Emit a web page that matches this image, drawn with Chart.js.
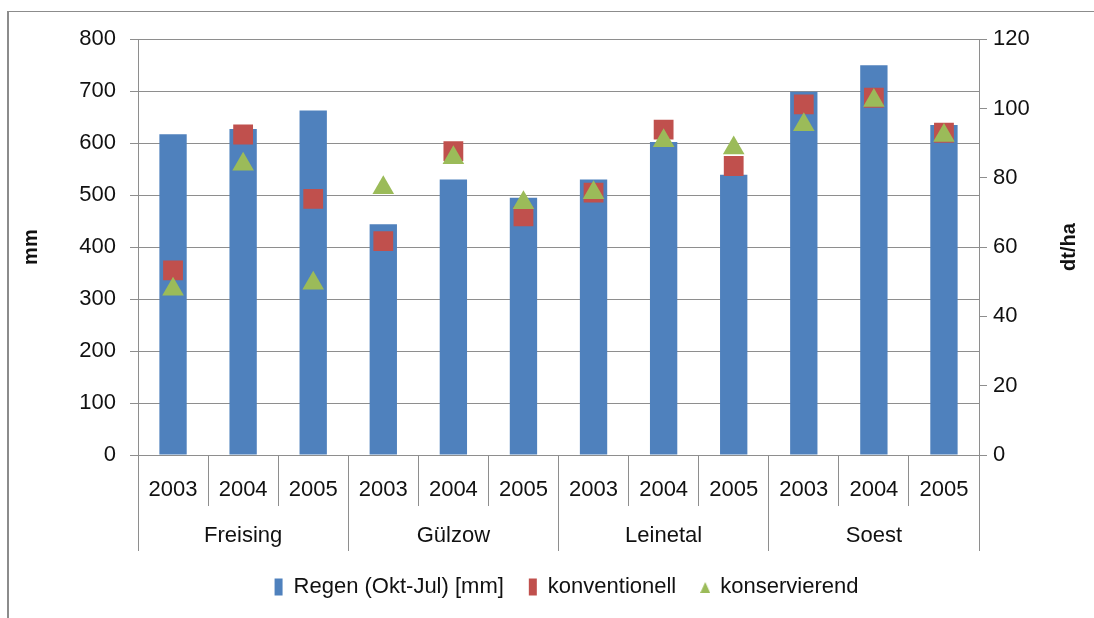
<!DOCTYPE html>
<html>
<head>
<meta charset="utf-8">
<script src="https://cdn.jsdelivr.net/npm/chart.js@4.4.1/dist/chart.umd.min.js"></script>
<style>
  body { margin: 0; background: #fff; }
  #frame { position: absolute; left: 7px; top: 11px; width: 1087px; height: 607px;
           border-left: 2px solid #8c8c8c; border-top: 1px solid #8c8c8c; }
  #c { display: block; }
</style>
</head>
<body>
<div id="frame"><canvas id="c" width="1087" height="607"></canvas></div>
<script>
var years = ['2003', '2004', '2005', '2003', '2004', '2005', '2003', '2004', '2005', '2003', '2004', '2005'];
var sites = ['Freising', 'Gülzow', 'Leinetal', 'Soest'];
var regen = [617, 627, 663, 444, 530, 495, 530, 602, 539, 699, 750, 635];
var konventionell = [53.3, 92.5, 73.9, 61.7, 87.7, 68.9, 75.7, 93.9, 83.4, 101.2, 103.1, 93.0];
var konservierend = [47.8, 83.9, 49.6, 77.1, 85.8, 72.8, 75.7, 90.7, 88.6, 95.3, 102.3, 92.2];
var mmTicks = [0, 100, 200, 300, 400, 500, 600, 700, 800];
var dtTicks = [0, 20, 40, 60, 80, 100, 120];

var blue = '#4F81BD', red = '#C0504D', green = '#9BBB59';
var gridColor = '#8e8e8e';
var font = { family: '"Liberation Sans", Arial, sans-serif', size: 22 };

// small triangle for the legend entry
var tri = document.createElement('canvas');
tri.width = 10; tri.height = 12;
var tctx = tri.getContext('2d');
tctx.fillStyle = green;
tctx.beginPath(); tctx.moveTo(5, 1); tctx.lineTo(10, 12); tctx.lineTo(0, 12); tctx.closePath(); tctx.fill();

var rightTitle = {
    id: 'rightTitle',
    afterDraw: function(chart) {
        var s = chart.scales.y1, ctx = chart.ctx;
        ctx.save();
        ctx.translate(s.right - 27, (s.top + s.bottom) / 2);
        ctx.rotate(-Math.PI / 2);
        ctx.font = 'bold 20px "Liberation Sans", Arial, sans-serif';
        ctx.fillStyle = '#111';
        ctx.textAlign = 'center';
        ctx.textBaseline = 'middle';
        ctx.fillText('dt/ha', 0, 0);
        ctx.restore();
    }
};

var ctx = document.getElementById('c').getContext('2d');
var chart = new Chart(ctx, {
    type: 'bar',
    data: {
        labels: years,
        datasets: [{
            label: 'Regen (Okt-Jul) [mm]',
            data: regen,
            backgroundColor: blue,
            borderWidth: 0,
            yAxisID: 'y',
            xAxisID: 'x',
            barPercentage: 0.39,
            categoryPercentage: 1,
            pointStyle: 'rect',
            order: 3
        }, {
            type: 'line',
            label: 'konventionell',
            data: konventionell,
            showLine: false,
            pointStyle: 'rect',
            pointRadius: 14,
            pointBackgroundColor: red,
            pointBorderColor: red,
            backgroundColor: red,
            borderColor: red,
            pointBorderWidth: 0,
            yAxisID: 'y1',
            xAxisID: 'x',
            order: 2
        }, {
            type: 'line',
            label: 'konservierend',
            data: konservierend,
            showLine: false,
            pointStyle: 'triangle',
            pointRadius: 12.5,
            pointBackgroundColor: green,
            pointBorderColor: green,
            backgroundColor: green,
            borderColor: green,
            pointBorderWidth: 0,
            yAxisID: 'y1',
            xAxisID: 'x',
            order: 1
        }]
    },
    plugins: [rightTitle],
    options: {
        responsive: false,
        animation: false,
        layout: { padding: { top: 26, left: 28, right: 0, bottom: 11 } },
        plugins: {
            tooltip: { enabled: false },
            legend: {
                position: 'bottom',
                labels: {
                    usePointStyle: true,
                    pointStyleWidth: 8,
                    boxHeight: 17,
                    padding: 25,
                    color: '#111',
                    font: font,
                    sort: function(a, b) { return a.datasetIndex - b.datasetIndex; },
                    generateLabels: function(chart) {
                        var items = Chart.defaults.plugins.legend.labels.generateLabels(chart);
                        items.forEach(function(it) {
                            if (it.datasetIndex === 2) it.pointStyle = tri;
                        });
                        return items;
                    }
                }
            }
        },
        scales: {
            x: {
                position: 'bottom',
                offset: true,
                grid: { offset: true, drawOnChartArea: false, tickLength: 51, color: gridColor },
                border: { display: true, color: gridColor },
                ticks: { font: font, color: '#111', padding: -29, maxRotation: 0, autoSkip: false },
                afterFit: function(s) { s.height = 51; }
            },
            x2: {
                type: 'category',
                position: 'bottom',
                labels: sites,
                offset: true,
                grid: { offset: true, drawOnChartArea: false, tickLength: 45, color: gridColor },
                border: { display: false },
                ticks: { font: font, color: '#111', padding: -28, maxRotation: 0 },
                afterFit: function(s) { s.height = 45; }
            },
            y: {
                position: 'left',
                min: 0, max: 800,
                afterBuildTicks: function(s) { s.ticks = mmTicks.map(function(v) { return { value: v }; }); },
                grid: { color: gridColor, tickLength: 8 },
                border: { display: true, color: gridColor },
                ticks: { font: font, color: '#111', padding: 14 },
                title: { display: true, text: 'mm', font: { family: font.family, size: 20, weight: 'bold' }, color: '#111', padding: { top: -18, bottom: 0 } },
                afterFit: function(s) { s.width = 101; }
            },
            y1: {
                position: 'right',
                min: 0, max: 120,
                afterBuildTicks: function(s) { s.ticks = dtTicks.map(function(v) { return { value: v }; }); },
                grid: { drawOnChartArea: false, color: gridColor, tickLength: 8 },
                border: { display: true, color: gridColor },
                ticks: { font: font, color: '#111', padding: 6 },
                afterFit: function(s) { s.width = 117; }
            }
        }
    }
});
</script>
</body>
</html>
